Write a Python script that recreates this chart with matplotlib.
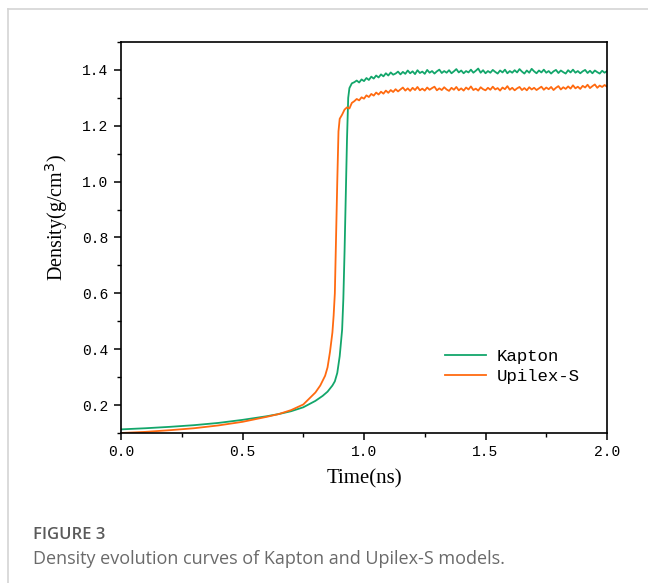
import numpy as np
import matplotlib
matplotlib.use("Agg")
import matplotlib.pyplot as plt
from matplotlib.ticker import MultipleLocator, FormatStrFormatter
from matplotlib.lines import Line2D

# Courbes de densité
t_kapton = [0.0, 0.1, 0.2, 0.3, 0.4, 0.5, 0.6, 0.65, 0.7, 0.75, 0.8, 0.83, 0.85,
            0.87, 0.88, 0.89, 0.9, 0.91, 0.915, 0.92, 0.925, 0.93, 0.935, 0.94, 0.95]
d_kapton = [0.113, 0.117, 0.122, 0.128, 0.136, 0.147, 0.160, 0.168, 0.178, 0.192,
            0.215, 0.233, 0.248, 0.270, 0.285, 0.315, 0.375, 0.47, 0.58, 0.75,
            0.95, 1.15, 1.30, 1.335, 1.352]

t_upilex = [0.0, 0.1, 0.2, 0.3, 0.4, 0.5, 0.6, 0.65, 0.7, 0.75, 0.8, 0.82, 0.84,
            0.85, 0.86, 0.87, 0.875, 0.88, 0.885, 0.89, 0.895, 0.9, 0.91, 0.92,
            0.93, 0.94, 0.95]
d_upilex = [0.100, 0.104, 0.110, 0.117, 0.127, 0.140, 0.158, 0.168, 0.182, 0.202,
            0.245, 0.270, 0.305, 0.335, 0.390, 0.460, 0.520, 0.600, 0.800, 1.000,
            1.180, 1.225, 1.240, 1.258, 1.266, 1.262, 1.282]

# palier (0.96 -> 2.00 ns, pas 0.01)
t_plateau = np.round(np.arange(0.96, 2.001, 0.01), 2)
d_kapton_plateau = [
    1.356, 1.362, 1.355, 1.366, 1.360, 1.371, 1.364, 1.376, 1.369, 1.380,
    1.373, 1.384, 1.377, 1.388, 1.380, 1.391, 1.383, 1.387, 1.394, 1.384,
    1.393, 1.386, 1.398, 1.388, 1.395, 1.385, 1.399, 1.389, 1.394, 1.386,
    1.400, 1.390, 1.396, 1.387, 1.395, 1.401, 1.389, 1.396, 1.390, 1.399,
    1.388, 1.395, 1.403, 1.391, 1.398, 1.388, 1.396, 1.391, 1.401, 1.390,
    1.397, 1.405, 1.390, 1.399, 1.388, 1.396, 1.390, 1.400, 1.393, 1.387,
    1.398, 1.391, 1.401, 1.388, 1.396, 1.390, 1.399, 1.391, 1.403, 1.394,
    1.387, 1.398, 1.390, 1.404, 1.395, 1.388, 1.398, 1.391, 1.401, 1.390,
    1.396, 1.387, 1.395, 1.400, 1.389, 1.398, 1.392, 1.387, 1.399, 1.391,
    1.401, 1.390, 1.396, 1.388, 1.395, 1.400, 1.389, 1.397, 1.388, 1.398,
    1.392, 1.387, 1.397, 1.390, 1.396]
d_upilex_plateau = [
    1.288, 1.296, 1.291, 1.302, 1.297, 1.309, 1.303, 1.314, 1.308, 1.319,
    1.312, 1.322, 1.315, 1.326, 1.318, 1.328, 1.321, 1.331, 1.323, 1.330,
    1.337, 1.326, 1.334, 1.325, 1.336, 1.328, 1.339, 1.327, 1.333, 1.326,
    1.337, 1.329, 1.335, 1.340, 1.327, 1.334, 1.328, 1.338, 1.330, 1.325,
    1.336, 1.329, 1.339, 1.327, 1.334, 1.326, 1.337, 1.330, 1.341, 1.328,
    1.333, 1.326, 1.338, 1.331, 1.327, 1.336, 1.329, 1.340, 1.330, 1.335,
    1.326, 1.337, 1.331, 1.342, 1.329, 1.336, 1.327, 1.334, 1.339, 1.328,
    1.335, 1.327, 1.338, 1.330, 1.336, 1.328, 1.334, 1.340, 1.329, 1.337,
    1.331, 1.339, 1.328, 1.336, 1.342, 1.330, 1.338, 1.332, 1.341, 1.333,
    1.345, 1.334, 1.340, 1.332, 1.343, 1.337, 1.347, 1.335, 1.342, 1.348,
    1.336, 1.344, 1.339, 1.346, 1.340]

x_ticks = [0.0, 0.5, 1.0, 1.5, 2.0]
y_ticks = [0.2, 0.4, 0.6, 0.8, 1.0, 1.2, 1.4]

vert = "#13a66b"
orange = "#ff6a10"

fig = plt.figure(figsize=(6.48, 5.83), dpi=100)

# cadre de la carte (bord gris en haut et à gauche)
fig.add_artist(Line2D([8 / 648, 1], [1 - 9 / 583, 1 - 9 / 583], color="#d4d4d4", lw=1.2))
fig.add_artist(Line2D([8 / 648, 8 / 648], [0, 1 - 9 / 583], color="#d4d4d4", lw=1.2))

ax = fig.add_axes([121 / 648, 1 - 433 / 583, 486 / 648, 391 / 583])

tk = np.concatenate([t_kapton, t_plateau])
dk = np.concatenate([d_kapton, d_kapton_plateau])
tu = np.concatenate([t_upilex, t_plateau])
du = np.concatenate([d_upilex, d_upilex_plateau])

ax.plot(tk, dk, color=vert, lw=1.3, label="Kapton")
ax.plot(tu, du, color=orange, lw=1.3, label="Upilex-S")

ax.set_xlim(0, 2.0)
ax.set_ylim(0.1, 1.5)
ax.set_xticks(x_ticks)
ax.set_yticks(y_ticks)
ax.xaxis.set_minor_locator(MultipleLocator(0.25))
ax.yaxis.set_minor_locator(MultipleLocator(0.1))
ax.xaxis.set_major_formatter(FormatStrFormatter("%.1f"))
ax.yaxis.set_major_formatter(FormatStrFormatter("%.1f"))
ax.tick_params(which="major", direction="out", length=5, width=1.1, pad=4)
ax.tick_params(which="minor", direction="out", length=3, width=1.0)
for lab in ax.get_xticklabels() + ax.get_yticklabels():
    lab.set_fontfamily("Liberation Mono")
    lab.set_fontsize(10.5)
for s in ax.spines.values():
    s.set_linewidth(1.2)

ax.set_xlabel("Time(ns)", fontfamily="Liberation Serif", fontsize=15, labelpad=7)
ax.set_ylabel("Density(g/cm$^3$)", fontfamily="Liberation Serif", fontsize=14.5)
ax.yaxis.set_label_coords(-0.105, 0.55)

leg = ax.legend(loc="center left", bbox_to_anchor=(0.648, 0.17), frameon=False,
                borderpad=0, handlelength=2.4, handletextpad=0.6, labelspacing=0.3,
                prop={"family": "Liberation Mono", "size": 12.5})

fig.text(33 / 648, 1 - 535 / 583, "FIGURE 3", fontfamily="Open Sans", fontweight="semibold",
         fontsize=12, color="#5a5a5a", va="center")
fig.text(33 / 648, 1 - 559 / 583, "Density evolution curves of Kapton and Upilex-S models.",
         fontfamily="Open Sans", fontsize=13, color="#6a6a6a", va="center")

fig.savefig("out.png", dpi=100)
